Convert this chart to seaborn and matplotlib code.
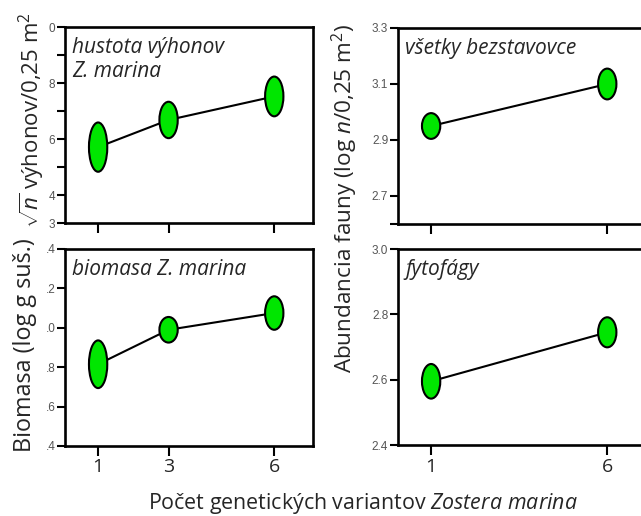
import matplotlib
matplotlib.use("Agg")
import matplotlib.pyplot as plt
import seaborn as sns
import pandas as pd
from matplotlib.patches import Ellipse

# data (means and half-heights of the ellipses)
genotypes_left = [1, 3, 6]
genotypes_right = [1, 6]

shoot_density = [5.71, 6.68, 7.52]
shoot_density_se = [0.88, 0.65, 0.71]

biomass = [0.815, 0.99, 1.075]
biomass_se = [0.121, 0.065, 0.085]

all_inverts = [2.95, 3.10]
all_inverts_se = [0.046, 0.055]

herbivores = [2.595, 2.745]
herbivores_se = [0.053, 0.046]

sns.set_theme(style="ticks")
plt.rcParams["font.family"] = ["Open Sans", "DejaVu Sans"]
plt.rcParams["mathtext.fontset"] = "custom"
plt.rcParams["mathtext.rm"] = "Open Sans"
plt.rcParams["mathtext.it"] = "Open Sans:italic"

GREEN = "#00e600"
TICK_GRAY = "#555555"

fig = plt.figure(figsize=(6.41, 5.16), dpi=100)

W, H = 641, 516


def make_ax(x0, y_top, y_bot, width=248):
    return fig.add_axes([x0 / W, 1 - y_bot / H, width / W, (y_bot - y_top) / H])


ax_tl = make_ax(65, 27, 223)
ax_bl = make_ax(65, 249, 446)
ax_tr = make_ax(398, 28, 224)
ax_br = make_ax(398, 249, 445)


def draw_panel(ax, xs, means, ses, title):
    df = pd.DataFrame({"x": xs, "y": means})
    sns.lineplot(data=df, x="x", y="y", color="black", linewidth=1.5, ax=ax, zorder=2)
    for x, m, s in zip(xs, means, ses):
        ax.add_patch(Ellipse((x, m), width=0.52, height=2 * s, facecolor=GREEN,
                             edgecolor="black", linewidth=1.5, zorder=3))
    ax.set_xlim(0.06, 7.1)
    ax.set_xlabel("")
    ax.set_ylabel("")
    for sp in ax.spines.values():
        sp.set_visible(True)
        sp.set_linewidth(1.9)
        sp.set_color("black")
    ax.tick_params(axis="y", length=6, width=1.5, pad=1, labelsize=8.5,
                   labelcolor=TICK_GRAY, color="black")
    ax.tick_params(axis="x", length=7, width=1.5, pad=2, labelsize=14, color="black")
    ax.text(0.03, 0.95, title, transform=ax.transAxes, ha="left", va="top",
            fontsize=15, style="italic", linespacing=1.2)


# top left: shoot density
draw_panel(ax_tl, genotypes_left, shoot_density, shoot_density_se,
           "hustota výhonov\nZ. marina")
ax_tl.set_ylim(3, 10)
ax_tl.set_yticks([3, 4, 5, 6, 7, 8, 9, 10])
ax_tl.set_yticklabels(["3", "4", "", "6", "", "8", "", "0"])
ax_tl.set_xticks(genotypes_left)
ax_tl.set_xticklabels([])

# bottom left: biomass
draw_panel(ax_bl, genotypes_left, biomass, biomass_se, "biomasa Z. marina")
ax_bl.set_ylim(0.4, 1.4)
ax_bl.set_yticks([0.4, 0.6, 0.8, 1.0, 1.2, 1.4])
ax_bl.set_yticklabels([".4", ".6", ".8", ".0", ".2", ".4"])
ax_bl.set_xticks(genotypes_left)
ax_bl.set_xticklabels(["1", "3", "6"])

# top right: all invertebrates
draw_panel(ax_tr, genotypes_right, all_inverts, all_inverts_se, "všetky bezstavovce")
ax_tr.set_ylim(2.6, 3.3)
ax_tr.set_yticks([2.6, 2.7, 2.9, 3.1, 3.3])
ax_tr.set_yticklabels(["", "2.7", "2.9", "3.1", "3.3"])
ax_tr.set_xticks(genotypes_right)
ax_tr.set_xticklabels([])

# bottom right: herbivores
draw_panel(ax_br, genotypes_right, herbivores, herbivores_se, "fytofágy")
ax_br.set_ylim(2.4, 3.0)
ax_br.set_yticks([2.4, 2.6, 2.8, 3.0])
ax_br.set_yticklabels(["2.4", "2.6", "2.8", "3.0"])
ax_br.set_xticks(genotypes_right)
ax_br.set_xticklabels(["1", "6"])

for ax in (ax_tl, ax_bl, ax_tr, ax_br):
    for lab in ax.get_yticklabels():
        lab.set_fontfamily("Liberation Sans")

# axis labels
fig.text(32 / W, 1 - 120 / H, r"$\sqrt{n}$ výhonov/0,25 m$^2$", rotation=90,
         ha="center", va="center", fontsize=16)
fig.text(25 / W, 1 - 345 / H, "Biomasa (log g suš.)", rotation=90,
         ha="center", va="center", fontsize=16.8)
fig.text(345 / W, 1 - 198 / H, r"Abundancia fauny (log $n$/0,25 m$^2$)", rotation=90,
         ha="center", va="center", fontsize=16.2)
fig.text(363 / W, 1 - 503 / H, r"Počet genetických variantov $Zostera\ marina$",
         ha="center", va="center", fontsize=15.4)

fig.savefig("out.png", dpi=100)
